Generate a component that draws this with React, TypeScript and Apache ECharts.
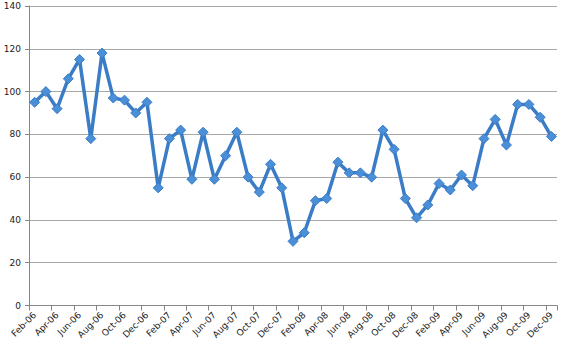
import React, { useEffect, useRef } from "react";
import * as echarts from "echarts";

const months = ["Jan", "Feb", "Mar", "Apr", "May", "Jun", "Jul", "Aug", "Sep", "Oct", "Nov", "Dec"];
const categories: string[] = [];
for (let y = 6; y <= 9; y++) {
  for (let m = 0; m < 12; m++) {
    if (y === 6 && m === 0) continue;
    categories.push(`${months[m]}-0${y}`);
  }
}

const values = [
  95, 100, 92, 106, 115, 78, 118, 97, 96, 90, 95,
  55, 78, 82, 59, 81, 59, 70, 81, 60, 53, 66, 55,
  30, 34, 49, 50, 67, 62, 62, 60, 82, 73, 50, 41,
  47, 57, 54, 61, 56, 78, 87, 75, 94, 94, 88, 79,
];

export default function App() {
  const ref = useRef<HTMLDivElement>(null);
  useEffect(() => {
    if (!ref.current) return;
    const chart = echarts.init(ref.current, undefined, { renderer: "svg" });
    chart.setOption({
      animation: false,
      backgroundColor: "#ffffff",
      grid: { left: 29, right: 12, top: 6, bottom: 45.5, containLabel: false },
      xAxis: {
        type: "category",
        data: categories,
        boundaryGap: true,
        axisLine: { lineStyle: { color: "#868686", width: 1 } },
        axisTick: { show: true, interval: 1, length: 5, lineStyle: { color: "#868686" } },
        axisLabel: {
          interval: 1,
          rotate: 45,
          fontSize: 9,
          fontFamily: "DejaVu Sans",
          color: "#1a1a1a",
          margin: 8,
        },
        splitLine: { show: false },
      },
      yAxis: {
        type: "value",
        min: 0,
        max: 140,
        interval: 20,
        axisLine: { show: true, lineStyle: { color: "#868686", width: 1 } },
        axisTick: { show: true, length: 4, lineStyle: { color: "#868686" } },
        axisLabel: {
          fontSize: 9,
          fontFamily: "DejaVu Sans",
          color: "#1a1a1a",
          margin: 8,
        },
        splitLine: { show: true, lineStyle: { color: "#a8a8a8", width: 1 } },
      },
      series: [
        {
          type: "line",
          data: values,
          symbol: "diamond",
          symbolSize: 10,
          showSymbol: true,
          showAllSymbol: true,
          lineStyle: { color: "#3a7dc6", width: 3.5 },
          itemStyle: { color: "#4a8fd8", borderColor: "#3a7dc6", borderWidth: 1 },
        },
      ],
    });
    return () => chart.dispose();
  }, []);
  return <div ref={ref} style={{ width: 569, height: 351, position: "absolute", left: 0, top: 0 }} />;
}
